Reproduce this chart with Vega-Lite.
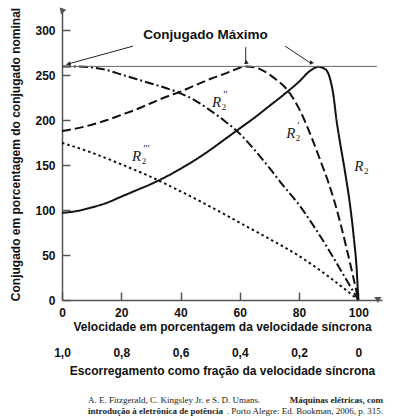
{
  "$schema": "https://vega.github.io/schema/vega-lite/v6.json",
  "width": 320,
  "height": 292,
  "autosize": {"type": "none"},
  "padding": {"left": 62, "top": 8, "right": 14, "bottom": 118},
  "background": "white",
  "config": {
    "view": {"stroke": null},
    "axis": {
      "labelFont": "Liberation Sans",
      "titleFont": "Liberation Sans",
      "labelFontWeight": "bold",
      "titleFontWeight": "bold",
      "labelColor": "#111",
      "titleColor": "#111",
      "labelFontSize": 12,
      "titleFontSize": 12,
      "grid": false,
      "labelFlush": false,
      "labelOverlap": false
    },
    "axisY": {
      "orient": "left",
      "tickSize": -8, "tickColor": "#555", "tickWidth": 1.5,
      "domainColor": "#555", "domainWidth": 1.5, "labelPadding": 15, "titlePadding": 12
    }
  },
  "datasets": {
    "curves": [
      {"series": "R2", "x": 0, "y": 97}, {"series": "R2", "x": 5, "y": 99}, {"series": "R2", "x": 10, "y": 103},
      {"series": "R2", "x": 15, "y": 108}, {"series": "R2", "x": 20, "y": 115}, {"series": "R2", "x": 25, "y": 122},
      {"series": "R2", "x": 30, "y": 129}, {"series": "R2", "x": 35, "y": 137}, {"series": "R2", "x": 40, "y": 146},
      {"series": "R2", "x": 45, "y": 156}, {"series": "R2", "x": 50, "y": 167}, {"series": "R2", "x": 55, "y": 179},
      {"series": "R2", "x": 60, "y": 191}, {"series": "R2", "x": 65, "y": 203}, {"series": "R2", "x": 70, "y": 216},
      {"series": "R2", "x": 75, "y": 229}, {"series": "R2", "x": 80, "y": 243}, {"series": "R2", "x": 83.7, "y": 255},
      {"series": "R2", "x": 86.5, "y": 259.5}, {"series": "R2", "x": 88.8, "y": 257}, {"series": "R2", "x": 90.4, "y": 247},
      {"series": "R2", "x": 91.6, "y": 228}, {"series": "R2", "x": 92.7, "y": 199}, {"series": "R2", "x": 93.6, "y": 180},
      {"series": "R2", "x": 95.5, "y": 143}, {"series": "R2", "x": 97.2, "y": 106}, {"series": "R2", "x": 98.5, "y": 69},
      {"series": "R2", "x": 99.5, "y": 32}, {"series": "R2", "x": 100, "y": 0},
      {"series": "R2'", "x": 0, "y": 188}, {"series": "R2'", "x": 5, "y": 191}, {"series": "R2'", "x": 10, "y": 195},
      {"series": "R2'", "x": 15, "y": 200}, {"series": "R2'", "x": 20, "y": 206}, {"series": "R2'", "x": 25, "y": 212},
      {"series": "R2'", "x": 30, "y": 219}, {"series": "R2'", "x": 35, "y": 226}, {"series": "R2'", "x": 40, "y": 232},
      {"series": "R2'", "x": 45, "y": 239}, {"series": "R2'", "x": 50, "y": 246}, {"series": "R2'", "x": 55, "y": 252},
      {"series": "R2'", "x": 58, "y": 256}, {"series": "R2'", "x": 62, "y": 260}, {"series": "R2'", "x": 65, "y": 259},
      {"series": "R2'", "x": 68, "y": 255}, {"series": "R2'", "x": 72, "y": 246}, {"series": "R2'", "x": 76, "y": 234},
      {"series": "R2'", "x": 80, "y": 213}, {"series": "R2'", "x": 84, "y": 183}, {"series": "R2'", "x": 87, "y": 157},
      {"series": "R2'", "x": 90, "y": 130}, {"series": "R2'", "x": 92, "y": 109}, {"series": "R2'", "x": 94, "y": 85},
      {"series": "R2'", "x": 96, "y": 58}, {"series": "R2'", "x": 98, "y": 30}, {"series": "R2'", "x": 100, "y": 0},
      {"series": "R2''", "x": 0, "y": 260}, {"series": "R2''", "x": 5, "y": 260}, {"series": "R2''", "x": 10, "y": 259},
      {"series": "R2''", "x": 15, "y": 256}, {"series": "R2''", "x": 20, "y": 251}, {"series": "R2''", "x": 25, "y": 246},
      {"series": "R2''", "x": 30, "y": 241}, {"series": "R2''", "x": 35, "y": 236}, {"series": "R2''", "x": 40, "y": 230},
      {"series": "R2''", "x": 45, "y": 222}, {"series": "R2''", "x": 50, "y": 211}, {"series": "R2''", "x": 55, "y": 199},
      {"series": "R2''", "x": 60, "y": 185}, {"series": "R2''", "x": 65, "y": 167}, {"series": "R2''", "x": 70, "y": 147},
      {"series": "R2''", "x": 75, "y": 126}, {"series": "R2''", "x": 80, "y": 106}, {"series": "R2''", "x": 85, "y": 82},
      {"series": "R2''", "x": 90, "y": 56}, {"series": "R2''", "x": 95, "y": 28}, {"series": "R2''", "x": 100, "y": 0},
      {"series": "R2'''", "x": 0, "y": 175}, {"series": "R2'''", "x": 10, "y": 164}, {"series": "R2'''", "x": 20, "y": 151},
      {"series": "R2'''", "x": 30, "y": 137}, {"series": "R2'''", "x": 40, "y": 121}, {"series": "R2'''", "x": 50, "y": 104},
      {"series": "R2'''", "x": 60, "y": 86}, {"series": "R2'''", "x": 70, "y": 68}, {"series": "R2'''", "x": 80, "y": 49},
      {"series": "R2'''", "x": 90, "y": 26}, {"series": "R2'''", "x": 100, "y": 0}
    ],
    "ref": [{"x": 0, "x2": 106.3, "y": 260}],
    "arrows": [
      {"id": "a1", "x": 24.0, "y": 282.6, "x2": 1.5, "y2": 262.2},
      {"id": "a2", "x": 62.0, "y": 281.4, "x2": 62.0, "y2": 263.5},
      {"id": "a3", "x": 75.3, "y": 282.6, "x2": 84.3, "y2": 262.8}
    ],
    "heads": [
      {"id": "a1", "kind": "note", "x": 2.2, "y": 262.6},
      {"id": "a2", "kind": "note", "x": 62.0, "y": 264.0},
      {"id": "a3", "kind": "note", "x": 84.0, "y": 263.5},
      {"id": "up", "kind": "axis", "x": 0, "y": 321},
      {"id": "right", "kind": "axis", "x": 106.6, "y": 0}
    ],
    "notes": [{"text": "Conjugado Máximo", "x": 48.4, "y": 294.5}],
    "rlabels": [
      {"series": "R2", "x": 100.2, "y": 149.5, "primes": ""},
      {"series": "R2'", "x": 77.2, "y": 185.5, "primes": "'"},
      {"series": "R2''", "x": 52.2, "y": 220.5, "primes": "''"},
      {"series": "R2'''", "x": 25.2, "y": 160.6, "primes": "'''"}
    ],
    "caption": [
      {"part": "l1a", "text": "A. E. Fitzgerald, C. Kingsley Jr. e S. D. Umans.", "x": 8.8, "y": -111.3},
      {"part": "l1b", "text": "Máquinas elétricas, com", "x": 108.3, "y": -111.3},
      {"part": "l2a", "text": "introdução à eletrônica de potência", "x": 8.8, "y": -123.5},
      {"part": "l2b", "text": ". Porto Alegre: Ed. Bookman, 2006, p. 315.", "x": 108.3, "y": -123.5}
    ]
  },
  "layer": [
    {
      "data": {"name": "curves"},
      "mark": {"type": "line", "interpolate": "monotone", "color": "#111", "strokeWidth": 2},
      "encoding": {
        "x": {
          "field": "x", "type": "quantitative",
          "scale": {"domain": [0, 108], "nice": false, "zero": false},
          "title": "Velocidade em porcentagem da velocidade síncrona",
          "axis": {
            "orient": "bottom",
            "values": [0, 20, 40, 60, 80, 100], "tickSize": -8, "tickColor": "#555", "tickWidth": 1.5,
            "domainColor": "#555", "domainWidth": 1.5, "labelPadding": 15, "titlePadding": 3
          }
        },
        "y": {
          "field": "y", "type": "quantitative",
          "scale": {"domain": [0, 325], "nice": false, "zero": false},
          "title": "Conjugado em porcentagem do conjugado nominal",
          "axis": {"values": [0, 50, 100, 150, 200, 250, 300]}
        },
        "strokeDash": {
          "field": "series", "type": "nominal",
          "scale": {"domain": ["R2", "R2'", "R2''", "R2'''"], "range": [[1, 0], [9, 4], [9, 3, 2, 3], [2.5, 3]]},
          "legend": null
        }
      }
    },
    {
      "data": {"name": "ref"},
      "mark": {"type": "rule", "color": "#666", "strokeWidth": 1},
      "encoding": {
        "x": {
          "field": "x", "type": "quantitative",
          "scale": {"domain": [0, 108], "nice": false, "zero": false},
          "title": "Escorregamento como fração da velocidade síncrona",
          "axis": {
            "orient": "bottom", "offset": 40, "domain": false, "ticks": false, "tickSize": 0,
            "values": [0, 20, 40, 60, 80, 100],
            "labelExpr": "datum.value == 100 ? '0' : replace(format((100 - datum.value) / 100, '.1f'), '.', ',')",
            "labelPadding": 7, "titlePadding": 7
          }
        },
        "x2": {"field": "x2"},
        "y": {"field": "y", "type": "quantitative", "scale": {"domain": [0, 325], "nice": false, "zero": false}, "title": "Conjugado em porcentagem do conjugado nominal"}
      }
    },
    {
      "data": {"name": "arrows"},
      "mark": {"type": "rule", "color": "#222", "strokeWidth": 1},
      "encoding": {
        "x": {"field": "x", "type": "quantitative", "scale": {"domain": [0, 108], "nice": false, "zero": false}, "axis": null},
        "y": {"field": "y", "type": "quantitative", "scale": {"domain": [0, 325], "nice": false, "zero": false}, "title": "Conjugado em porcentagem do conjugado nominal"},
        "x2": {"field": "x2"},
        "y2": {"field": "y2"}
      }
    },
    {
      "data": {"name": "heads"},
      "mark": {"type": "point", "shape": "triangle-up", "filled": true, "opacity": 1},
      "encoding": {
        "x": {"field": "x", "type": "quantitative", "scale": {"domain": [0, 108], "nice": false, "zero": false}, "axis": null},
        "y": {"field": "y", "type": "quantitative", "scale": {"domain": [0, 325], "nice": false, "zero": false}, "title": "Conjugado em porcentagem do conjugado nominal"},
        "angle": {"field": "id", "type": "nominal", "scale": {"domain": ["a1", "a2", "a3", "up", "right"], "range": [255, 180, 123, 0, 90]}, "legend": null},
        "size": {"field": "kind", "type": "nominal", "scale": {"domain": ["note", "axis"], "range": [22, 50]}, "legend": null},
        "color": {"field": "kind", "type": "nominal", "scale": {"domain": ["note", "axis"], "range": ["#222", "#555"]}, "legend": null}
      }
    },
    {
      "data": {"name": "notes"},
      "mark": {"type": "text", "font": "Liberation Sans", "fontWeight": "bold", "fontSize": 13.5, "align": "center", "baseline": "middle", "color": "#111"},
      "encoding": {
        "x": {"field": "x", "type": "quantitative", "scale": {"domain": [0, 108], "nice": false, "zero": false}, "axis": null},
        "y": {"field": "y", "type": "quantitative", "scale": {"domain": [0, 325], "nice": false, "zero": false}, "title": "Conjugado em porcentagem do conjugado nominal"},
        "text": {"field": "text"}
      }
    },
    {
      "data": {"name": "rlabels"},
      "mark": {"type": "text", "font": "Liberation Serif", "fontStyle": "italic", "fontSize": 15, "align": "center", "baseline": "middle", "color": "#222"},
      "encoding": {
        "x": {"field": "x", "type": "quantitative", "scale": {"domain": [0, 108], "nice": false, "zero": false}, "axis": null},
        "y": {"field": "y", "type": "quantitative", "scale": {"domain": [0, 325], "nice": false, "zero": false}, "title": "Conjugado em porcentagem do conjugado nominal"},
        "text": {"value": "R"}
      }
    },
    {
      "data": {"name": "rlabels"},
      "mark": {"type": "text", "font": "Liberation Serif", "fontSize": 9, "align": "left", "baseline": "middle", "dx": 5, "dy": 5, "color": "#222"},
      "encoding": {
        "x": {"field": "x", "type": "quantitative", "scale": {"domain": [0, 108], "nice": false, "zero": false}, "axis": null},
        "y": {"field": "y", "type": "quantitative", "scale": {"domain": [0, 325], "nice": false, "zero": false}, "title": "Conjugado em porcentagem do conjugado nominal"},
        "text": {"value": "2"}
      }
    },
    {
      "data": {"name": "rlabels"},
      "mark": {"type": "text", "font": "Liberation Serif", "fontStyle": "italic", "fontSize": 10, "align": "left", "baseline": "middle", "dx": 6, "dy": -7, "color": "#222"},
      "encoding": {
        "x": {"field": "x", "type": "quantitative", "scale": {"domain": [0, 108], "nice": false, "zero": false}, "axis": null},
        "y": {"field": "y", "type": "quantitative", "scale": {"domain": [0, 325], "nice": false, "zero": false}, "title": "Conjugado em porcentagem do conjugado nominal"},
        "text": {"field": "primes"}
      }
    },
    {
      "data": {"name": "caption"},
      "transform": [{"filter": "datum.part == 'l1a'"}],
      "mark": {"type": "text", "font": "Liberation Serif", "fontSize": 9, "align": "left", "baseline": "middle", "color": "#222"},
      "encoding": {
        "x": {"field": "x", "type": "quantitative", "scale": {"domain": [0, 108], "nice": false, "zero": false}, "axis": null},
        "y": {"field": "y", "type": "quantitative", "scale": {"domain": [0, 325], "nice": false, "zero": false}, "title": "Conjugado em porcentagem do conjugado nominal"},
        "text": {"field": "text"}
      }
    },
    {
      "data": {"name": "caption"},
      "transform": [{"filter": "datum.part == 'l2b'"}],
      "mark": {"type": "text", "font": "Liberation Serif", "fontSize": 9, "align": "right", "baseline": "middle", "color": "#222"},
      "encoding": {
        "x": {"field": "x", "type": "quantitative", "scale": {"domain": [0, 108], "nice": false, "zero": false}, "axis": null},
        "y": {"field": "y", "type": "quantitative", "scale": {"domain": [0, 325], "nice": false, "zero": false}, "title": "Conjugado em porcentagem do conjugado nominal"},
        "text": {"field": "text"}
      }
    },
    {
      "data": {"name": "caption"},
      "transform": [{"filter": "datum.part == 'l1b'"}],
      "mark": {"type": "text", "font": "Liberation Serif", "fontSize": 9, "fontWeight": "bold", "align": "right", "baseline": "middle", "color": "#222"},
      "encoding": {
        "x": {"field": "x", "type": "quantitative", "scale": {"domain": [0, 108], "nice": false, "zero": false}, "axis": null},
        "y": {"field": "y", "type": "quantitative", "scale": {"domain": [0, 325], "nice": false, "zero": false}, "title": "Conjugado em porcentagem do conjugado nominal"},
        "text": {"field": "text"}
      }
    },
    {
      "data": {"name": "caption"},
      "transform": [{"filter": "datum.part == 'l2a'"}],
      "mark": {"type": "text", "font": "Liberation Serif", "fontSize": 9, "fontWeight": "bold", "align": "left", "baseline": "middle", "color": "#222"},
      "encoding": {
        "x": {"field": "x", "type": "quantitative", "scale": {"domain": [0, 108], "nice": false, "zero": false}, "axis": null},
        "y": {"field": "y", "type": "quantitative", "scale": {"domain": [0, 325], "nice": false, "zero": false}, "title": "Conjugado em porcentagem do conjugado nominal"},
        "text": {"field": "text"}
      }
    }
  ],
  "resolve": {"axis": {"x": "independent"}}
}
